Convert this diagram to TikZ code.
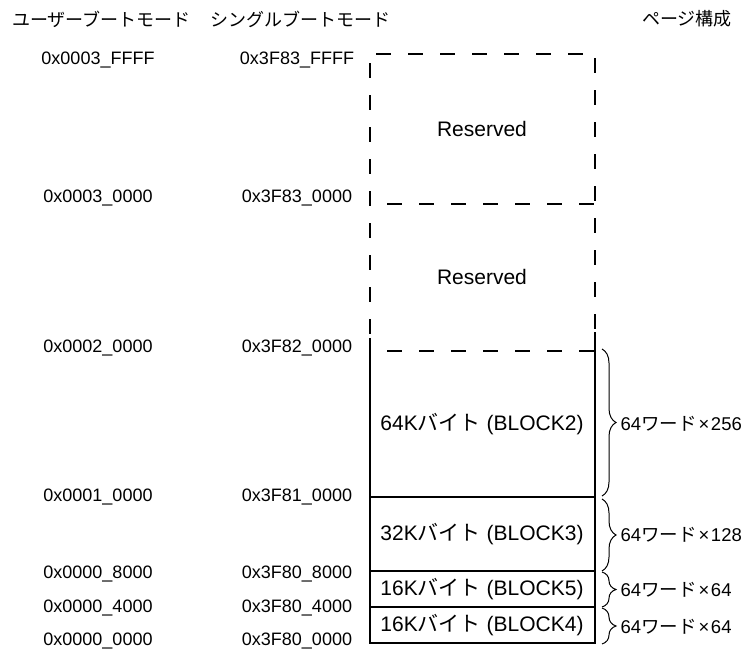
\documentclass[tikz,border=0pt]{standalone}
\usepackage{fontspec}
\setmainfont{Liberation Sans}
\newfontfamily\jpfont{Noto Sans CJK JP}
\usetikzlibrary{decorations.pathreplacing}
\newcommand{\tms}{\hspace{2pt}×\hspace{1.5pt}}
\begin{document}
\begin{tikzpicture}[x=1pt,y=-1pt,line width=1.2pt,
  addr/.style={font=\fontsize{18}{20}\selectfont,inner sep=0},
  hdr/.style={font=\fontsize{18}{20}\selectfont\jpfont,inner sep=0},
  blk/.style={font=\fontsize{21}{24}\selectfont,inner sep=0},
  wrd/.style={font=\fontsize{18.5}{20}\selectfont,inner sep=0,anchor=west},
  dsh/.style={dash pattern=on 15pt off 17pt},
  brc/.style={decorate,decoration={brace,amplitude=14pt},line width=1pt}]
\useasboundingbox (0,0) rectangle (750,653);
% headers
\node[hdr] (h1) at (101.5,19) {ユーザーブートモード};
\node[hdr] (h2) at (300,19) {シングルブートモード};
\node[hdr] (h3) at (687,19) {ページ構成};
% dashed reserved area
\draw[dsh,dash phase=26pt] (370,54) -- (595,54);
\draw[dsh,dash phase=23pt] (370,54) -- (370,338);
\draw[dsh,dash phase=28pt] (595,54) -- (595,332);
\draw[dsh,dash phase=15pt] (370,204) -- (595,204);
\draw[dsh,dash phase=15pt] (370,351) -- (595,351);
% solid blocks
\draw (370,338) -- (370,643) -- (595,643) -- (595,332);
\draw (370,497) -- (595,497);
\draw (370,571) -- (595,571);
\draw (370,607) -- (595,607);
% block labels
\node[blk] (r1) at (482,129) {Reserved};
\node[blk] (r2) at (482,277) {Reserved};
\node[blk] (b2) at (482,424) {64K{\jpfont バイト} (BLOCK2)};
\node[blk] (b3) at (482,534) {32K{\jpfont バイト} (BLOCK3)};
\node[blk] (b5) at (482,589) {16K{\jpfont バイト} (BLOCK5)};
\node[blk] (b4) at (482,625) {16K{\jpfont バイト} (BLOCK4)};
% addresses
\node[addr] (u1) at (98,60) {0x0003\_FFFF};
\node[addr] (u2) at (98,198) {0x0003\_0000};
\node[addr] (u3) at (98,348) {0x0002\_0000};
\node[addr] (u4) at (98,497) {0x0001\_0000};
\node[addr] (u5) at (98,574) {0x0000\_8000};
\node[addr] (u6) at (98,608) {0x0000\_4000};
\node[addr] (u7) at (98,641) {0x0000\_0000};
\node[addr] (s1) at (297,60) {0x3F83\_FFFF};
\node[addr] (s2) at (297,198) {0x3F83\_0000};
\node[addr] (s3) at (297,348) {0x3F82\_0000};
\node[addr] (s4) at (297,497) {0x3F81\_0000};
\node[addr] (s5) at (297,574) {0x3F80\_8000};
\node[addr] (s6) at (297,608) {0x3F80\_4000};
\node[addr] (s7) at (297,641) {0x3F80\_0000};
% braces
\draw[brc] (602,349) -- (602,496);
\draw[brc] (602,499) -- (602,571);
\draw[brc] (602,572) -- (602,607);
\draw[brc] (602,608) -- (602,644);
\node[wrd] (w1) at (620,424) {64{\jpfont ワード}\tms 256};
\node[wrd] (w2) at (620,535) {64{\jpfont ワード}\tms 128};
\node[wrd] (w3) at (620,590) {64{\jpfont ワード}\tms 64};
\node[wrd] (w4) at (620,627) {64{\jpfont ワード}\tms 64};
\end{tikzpicture}
\end{document}
